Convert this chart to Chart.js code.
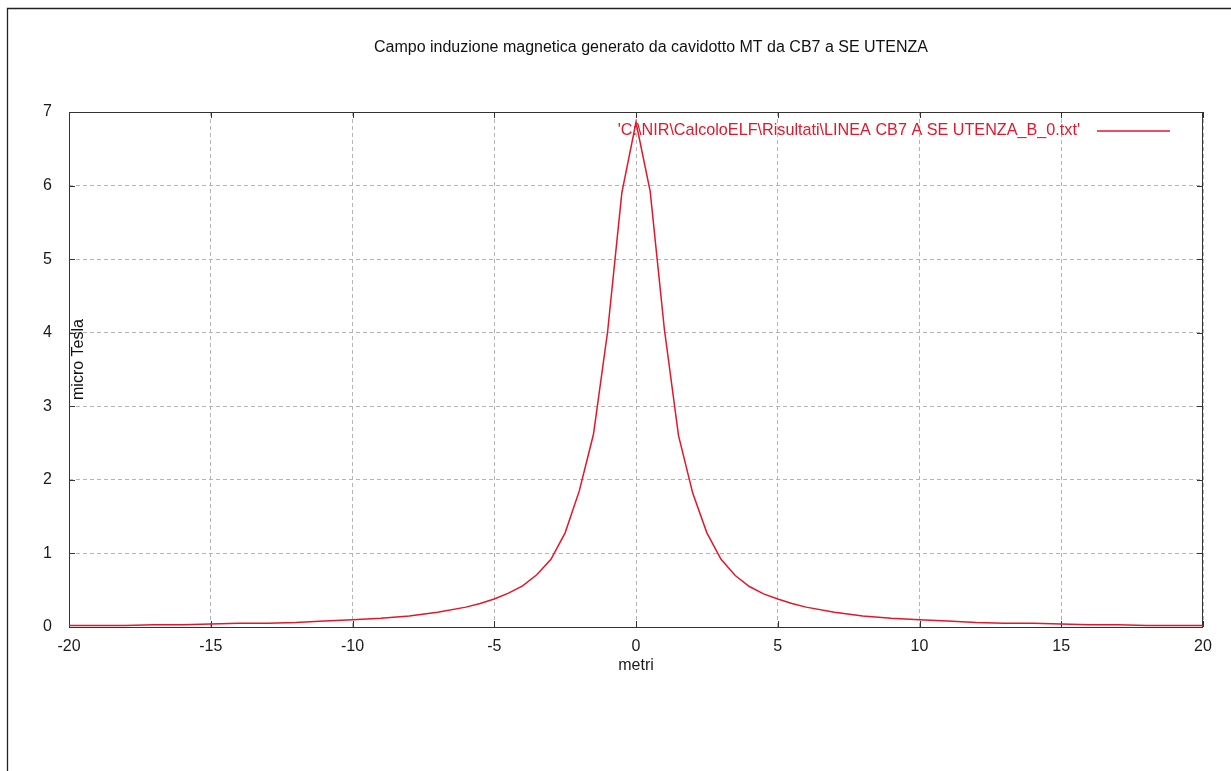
<!DOCTYPE html>
<html>
<head>
<meta charset="utf-8">
<script src="https://cdn.jsdelivr.net/npm/chart.js@4"></script>
<style>
  html, body { margin: 0; padding: 0; background: #fff; }
  canvas { display: block; }
</style>
</head>
<body>
<canvas id="campo" width="1231" height="771"></canvas>
<script>
const titolo = 'Campo induzione magnetica generato da cavidotto MT da CB7 a SE UTENZA';
const serieLabel = "'C:\\NIR\\CalcoloELF\\Risultati\\LINEA CB7 A SE UTENZA_B_0.txt'";
const xTitle = 'metri';
const yTitle = 'micro Tesla';

// distanza dall'asse del cavidotto (m)
const metri = [
  -20, -19, -18, -17, -16, -15, -14, -13, -12, -11, -10, -9, -8, -7,
  -6, -5.5, -5, -4.5, -4, -3.5, -3, -2.5, -2, -1.5, -1, -0.5,
  0, 0.5, 1, 1.5, 2, 2.5, 3, 3.5, 4, 4.5, 5, 5.5, 6,
  7, 8, 9, 10, 11, 12, 13, 14, 15, 16, 17, 18, 19, 20
];

// induzione magnetica (micro Tesla)
const microTesla = [
  0.02, 0.02, 0.02, 0.03, 0.03, 0.04, 0.05, 0.05, 0.06, 0.08, 0.10, 0.12, 0.15, 0.20,
  0.27, 0.32, 0.38, 0.46, 0.56, 0.71, 0.92, 1.28, 1.85, 2.62, 4.02, 5.90,
  6.86, 5.92, 4.05, 2.60, 1.82, 1.28, 0.92, 0.70, 0.55, 0.45, 0.38, 0.32, 0.27,
  0.20, 0.15, 0.12, 0.10, 0.08, 0.06, 0.05, 0.05, 0.04, 0.03, 0.03, 0.02, 0.02, 0.02
];

const xMin = -20, xMax = 20, xStep = 5;
const yMin = 0, yMax = 7, yStep = 1;

const rosso = 'rgb(228, 22, 42)';
const font = '"Liberation Sans", Arial, sans-serif';

const punti = metri.map((m, i) => ({ x: m, y: microTesla[i] }));

// frame, inward ticks, title, legend (gnuplot look)
const gnuplotLook = {
  id: 'gnuplotLook',
  beforeDatasetsDraw(chart) {
    const { ctx, chartArea: a, scales } = chart;
    ctx.save();
    ctx.strokeStyle = '#333';
    ctx.lineWidth = 1;
    ctx.strokeRect(a.left + 0.5, a.top + 0.5, a.right - a.left - 1, a.bottom - a.top);
    ctx.beginPath();
    scales.x.ticks.forEach(t => {
      const px = Math.round(scales.x.getPixelForValue(t.value)) + 0.5;
      ctx.moveTo(px, a.bottom); ctx.lineTo(px, a.bottom - 6);
      ctx.moveTo(px, a.top); ctx.lineTo(px, a.top + 6);
    });
    scales.y.ticks.forEach(t => {
      const py = Math.round(scales.y.getPixelForValue(t.value)) + 0.5;
      ctx.moveTo(a.left, py); ctx.lineTo(a.left + 6, py);
      ctx.moveTo(a.right, py); ctx.lineTo(a.right - 6, py);
    });
    ctx.stroke();
    ctx.restore();
  },
  afterDraw(chart) {
    const { ctx, chartArea: a } = chart;
    ctx.save();
    // outer border (only left/top visible)
    ctx.strokeStyle = '#222';
    ctx.lineWidth = 1.3;
    ctx.beginPath();
    ctx.moveTo(7.5, chart.height);
    ctx.lineTo(7.5, 8.5);
    ctx.lineTo(chart.width, 8.5);
    ctx.stroke();

    ctx.font = '16px ' + font;
    ctx.fillStyle = '#111';
    ctx.textAlign = 'center';
    ctx.textBaseline = 'middle';
    ctx.fillText(titolo, (a.left + a.right) / 2 + 15, 48);

    // y title inside the plot
    ctx.save();
    ctx.translate(a.left + 10, (a.top + a.bottom) / 2 - 10);
    ctx.rotate(-Math.PI / 2);
    ctx.fillText(yTitle, 0, 0);
    ctx.restore();

    // legend
    const ds = chart.data.datasets[0];
    const ly = a.top + 19;
    ctx.fillStyle = ds.borderColor;
    ctx.textAlign = 'right';
    ctx.font = '16.2px ' + font;
    ctx.fillText(ds.label, a.right - 123, ly);
    ctx.strokeStyle = ds.borderColor;
    ctx.lineWidth = 1.5;
    ctx.beginPath();
    ctx.moveTo(a.right - 106, ly);
    ctx.lineTo(a.right - 33, ly);
    ctx.stroke();
    ctx.restore();
  }
};

new Chart(document.getElementById('campo'), {
  type: 'line',
  data: {
    datasets: [{
      label: serieLabel,
      data: punti,
      borderColor: rosso,
      borderWidth: 1.5,
      pointRadius: 0,
      tension: 0,
      fill: false
    }]
  },
  options: {
    responsive: false,
    animation: false,
    layout: { padding: { top: 112, left: 0, right: 28, bottom: 95.6 } },
    plugins: {
      legend: { display: false },
      tooltip: { enabled: false },
      title: { display: false }
    },
    scales: {
      x: {
        type: 'linear',
        min: xMin,
        max: xMax,
        ticks: { stepSize: xStep, font: { family: font, size: 16 }, color: '#1a1a1a', padding: 10, maxRotation: 0 },
        grid: { color: '#b4b4b4', drawTicks: false, tickLength: 0 },
        border: { display: false, dash: [4, 3] },
        title: { display: true, text: xTitle, font: { family: font, size: 16 }, color: '#1a1a1a', padding: { top: 0, bottom: 0 } },
        afterFit(scale) { scale.height = 48.4; }
      },
      y: {
        type: 'linear',
        min: yMin,
        max: yMax,
        ticks: { stepSize: yStep, font: { family: font, size: 16 }, color: '#1a1a1a', padding: 17 },
        grid: { color: '#b4b4b4', drawTicks: false, tickLength: 0 },
        border: { display: false, dash: [4, 3] },
        afterFit(scale) { scale.width = 69; }
      }
    }
  },
  plugins: [gnuplotLook]
});
</script>
</body>
</html>
